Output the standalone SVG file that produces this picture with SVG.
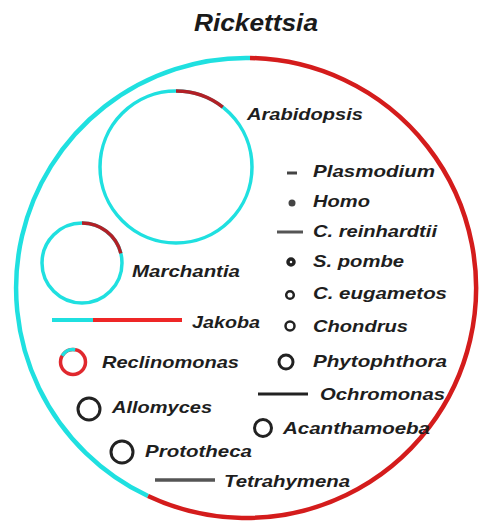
<svg xmlns="http://www.w3.org/2000/svg" width="481" height="522" viewBox="0 0 481 522">
<style>
text{font-family:"Liberation Sans",Arial,sans-serif;font-weight:bold;font-style:italic;fill:#1e1e1e;font-size:17px}
.title{font-size:23px;fill:#1a1a1a}
.cy{fill:none;stroke:#1fe0e0}
.rd{fill:none;stroke:#d41c1c}
.dk{fill:none;stroke:#b22026}
.bk{fill:none;stroke:#222}
</style>
<rect width="481" height="522" fill="#fff"/>
<g id="title"><text class="title" x="194" y="31" textLength="124" lengthAdjust="spacingAndGlyphs">Rickettsia</text></g>
<g id="connectors">
<path class="cy" stroke-width="4.5" d="M250,58 A230,230 0 0 0 148,496"/>
<path class="rd" stroke-width="4.5" d="M250,58 A230,230 0 1 1 148,496"/>
</g>
<g id="arabidopsis">
<circle class="cy" stroke-width="3.5" cx="176" cy="167" r="76"/>
<path class="dk" stroke-width="3.5" d="M176,91 A76,76 0 0 1 222.8,107.1"/>
<text x="247" y="120" textLength="116" lengthAdjust="spacingAndGlyphs">Arabidopsis</text>
</g>
<g id="marchantia">
<circle class="cy" stroke-width="3.5" cx="82" cy="263" r="40"/>
<path class="dk" stroke-width="3.5" d="M82,223 A40,40 0 0 1 120.8,253.3"/>
<text x="132" y="277" textLength="108" lengthAdjust="spacingAndGlyphs">Marchantia</text>
</g>
<g id="jakoba">
<line class="cy" stroke-width="4" x1="52" y1="320" x2="93" y2="320"/>
<line stroke="#ee2626" stroke-width="4" x1="93" y1="320" x2="182" y2="320"/>
<text x="192" y="328" textLength="68" lengthAdjust="spacingAndGlyphs">Jakoba</text>
</g>
<g id="reclinomonas">
<circle stroke="#e0282e" fill="none" stroke-width="3.5" cx="73" cy="362" r="12.5"/>
<path class="cy" stroke-width="3.5" d="M62.2,355.75 A12.5,12.5 0 0 1 75.2,349.7"/>
<text x="102" y="368" textLength="137" lengthAdjust="spacingAndGlyphs">Reclinomonas</text>
</g>
<g id="allomyces">
<circle class="bk" stroke-width="3" cx="89" cy="409" r="11"/>
<text x="112" y="413" textLength="100" lengthAdjust="spacingAndGlyphs">Allomyces</text>
</g>
<g id="prototheca">
<circle class="bk" stroke-width="3" cx="122" cy="452" r="11"/>
<text x="145" y="457" textLength="107" lengthAdjust="spacingAndGlyphs">Prototheca</text>
</g>
<g id="tetrahymena">
<line stroke="#555" stroke-width="3.5" x1="155" y1="480" x2="215" y2="480"/>
<text x="224" y="487" textLength="126" lengthAdjust="spacingAndGlyphs">Tetrahymena</text>
</g>
<g id="acanthamoeba">
<circle class="bk" stroke-width="3" cx="263" cy="428" r="8.5"/>
<text x="283" y="434" textLength="147" lengthAdjust="spacingAndGlyphs">Acanthamoeba</text>
</g>
<g id="ochromonas">
<line stroke="#222" stroke-width="3" x1="258" y1="394" x2="308" y2="394"/>
<text x="320" y="400" textLength="125" lengthAdjust="spacingAndGlyphs">Ochromonas</text>
</g>
<g id="phytophthora">
<circle class="bk" stroke-width="3" cx="286" cy="362" r="7"/>
<text x="313" y="367" textLength="134" lengthAdjust="spacingAndGlyphs">Phytophthora</text>
</g>
<g id="chondrus">
<circle class="bk" stroke-width="2.5" cx="290" cy="326" r="4.5"/>
<text x="313" y="332" textLength="95" lengthAdjust="spacingAndGlyphs">Chondrus</text>
</g>
<g id="c-eugametos">
<circle class="bk" stroke-width="2.5" cx="290" cy="295" r="3.8"/>
<text x="313" y="299" textLength="134" lengthAdjust="spacingAndGlyphs">C. eugametos</text>
</g>
<g id="s-pombe">
<circle class="bk" stroke-width="3.5" cx="291" cy="262" r="3"/>
<text x="313" y="267" textLength="91" lengthAdjust="spacingAndGlyphs">S. pombe</text>
</g>
<g id="c-reinhardtii">
<line stroke="#555" stroke-width="3" x1="277" y1="232" x2="303" y2="232"/>
<text x="313" y="237" textLength="124" lengthAdjust="spacingAndGlyphs">C. reinhardtii</text>
</g>
<g id="homo">
<circle fill="#444" cx="292" cy="203" r="3.5"/>
<text x="313" y="207" textLength="57" lengthAdjust="spacingAndGlyphs">Homo</text>
</g>
<g id="plasmodium">
<line stroke="#444" stroke-width="3" x1="287" y1="173" x2="297" y2="173"/>
<text x="313" y="177" textLength="122" lengthAdjust="spacingAndGlyphs">Plasmodium</text>
</g>
</svg>
